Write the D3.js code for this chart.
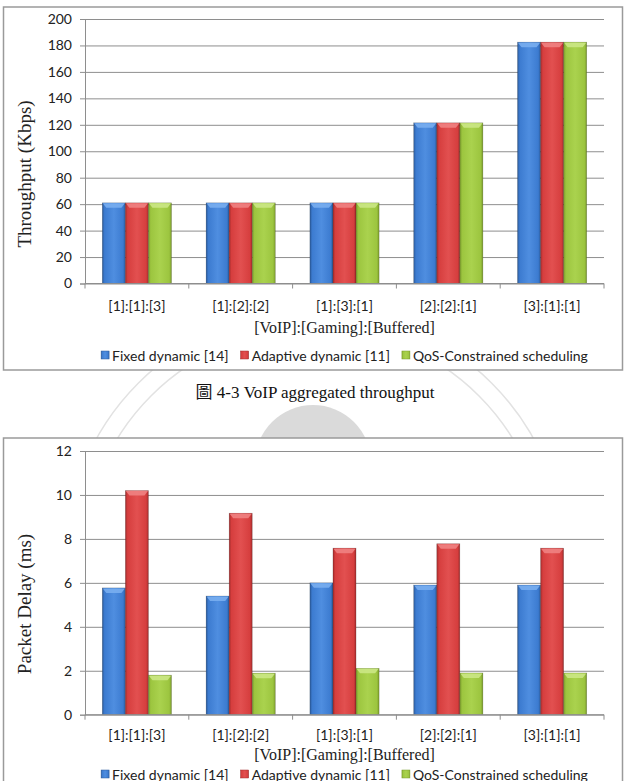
<!DOCTYPE html>
<html>
<head>
<meta charset="utf-8">
<script src="https://cdn.jsdelivr.net/npm/d3@7"></script>
<style>
  body { margin: 0; background: #fff; }
  svg { display: block; }
  .serif { font-family: "Liberation Serif", "Times New Roman", "DejaVu Serif", serif; }
  .caption { font-family: "Liberation Serif", "Times New Roman", "Noto Sans CJK TC", serif; }
  .sans { font-family: Lato, "Open Sans", sans-serif; }
</style>
</head>
<body>
<div id="page"></div>
<script>
// chart data
var categories = ["[1]:[1]:[3]", "[1]:[2]:[2]", "[1]:[3]:[1]", "[2]:[2]:[1]", "[3]:[1]:[1]"];
var seriesNames = ["Fixed dynamic [14]", "Adaptive dynamic [11]", "QoS-Constrained scheduling"];

var throughputFixed    = [61, 61, 61, 121.5, 182.5];
var throughputAdaptive = [61, 61, 61, 121.5, 182.5];
var throughputQoS      = [61, 61, 61, 121.5, 182.5];
var throughputTicks    = [0, 20, 40, 60, 80, 100, 120, 140, 160, 180, 200];

var delayFixed    = [5.77, 5.4, 6.0, 5.9, 5.9];
var delayAdaptive = [10.2, 9.17, 7.58, 7.78, 7.58];
var delayQoS      = [1.8, 1.89, 2.11, 1.9, 1.9];
var delayTicks    = [0, 2, 4, 6, 8, 10, 12];

var xTitle = "[VoIP]:[Gaming]:[Buffered]";
var caption = "圖 4-3 VoIP aggregated throughput";

var W = 631, H = 781;
var plotLeft = 85, plotRight = 604;

var svg = d3.select("#page").append("svg")
  .attr("width", W)
  .attr("height", H);

var defs = svg.append("defs");

// bevel-ish fills for each series
var palette = [
  { edge: "#2b5a9a", mid: "#3c7bd0", light: "#4f8ee0", cap: "#79aef0" },
  { edge: "#a22c2c", mid: "#d63e3e", light: "#e25050", cap: "#ef8282" },
  { edge: "#7a9a2c", mid: "#9cc53f", light: "#aad24e", cap: "#cbe785" }
];
palette.forEach(function(p, i) {
  var g = defs.append("linearGradient")
    .attr("id", "bar" + i)
    .attr("x1", 0).attr("x2", 1).attr("y1", 0).attr("y2", 0);
  g.append("stop").attr("offset", "0").attr("stop-color", p.edge);
  g.append("stop").attr("offset", "0.1").attr("stop-color", p.mid);
  g.append("stop").attr("offset", "0.5").attr("stop-color", p.light);
  g.append("stop").attr("offset", "0.9").attr("stop-color", p.mid);
  g.append("stop").attr("offset", "1").attr("stop-color", p.edge);
});

// faint seal watermark between the two figures
var mark = svg.append("g").attr("class", "watermark");
mark.append("circle")
  .attr("cx", 313).attr("cy", 463).attr("r", 58)
  .attr("fill", "#dadada");
mark.selectAll("circle.ring")
  .data([250, 232])
  .enter()
  .append("circle")
  .attr("class", "ring")
  .attr("cx", 315).attr("cy", 560)
  .attr("r", d => d)
  .attr("fill", "none")
  .attr("stroke", "#e2e2e2")
  .attr("stroke-width", 1.5);

function drawChart(opt) {
  var g = svg.append("g");

  // frame
  g.append("rect")
    .attr("x", 3.5).attr("y", opt.frameY)
    .attr("width", 619).attr("height", opt.frameH)
    .attr("fill", "#fff")
    .attr("stroke", "#9a9a9a")
    .attr("stroke-width", 1.5);

  var y = d3.scaleLinear()
    .domain([0, d3.max(opt.ticks)])
    .range([opt.plotBottom, opt.plotTop]);

  var x0 = d3.scaleBand()
    .domain(categories)
    .range([plotLeft, plotRight])
    .paddingInner(0.333)
    .paddingOuter(0.1665);

  var x1 = d3.scaleBand()
    .domain(seriesNames)
    .range([0, x0.bandwidth()]);

  // gridlines
  g.append("g")
    .attr("transform", `translate(${plotLeft},0)`)
    .call(d3.axisLeft(y).tickValues(opt.ticks).tickSize(-(plotRight - plotLeft)).tickFormat(""))
    .call(s => s.select(".domain").remove())
    .call(s => s.selectAll("line").attr("stroke", "#8e8e8e").attr("stroke-width", 1));

  // y axis
  g.append("g")
    .attr("transform", `translate(${plotLeft},0)`)
    .call(d3.axisLeft(y).tickValues(opt.ticks).tickSize(5).tickPadding(8))
    .call(s => s.select(".domain").attr("stroke", "#8e8e8e"))
    .call(s => s.selectAll("line").attr("stroke", "#8e8e8e"))
    .call(s => s.selectAll("text")
      .attr("font-family", null)
      .attr("class", "sans")
      .attr("font-size", 14)
      .attr("fill", "#222"));

  // bars
  var rows = categories.map(function(c, i) {
    return { cat: c, vals: opt.series.map(function(s, k) { return { name: seriesNames[k], k: k, v: s[i] }; }) };
  });

  var groups = g.selectAll("g.cat")
    .data(rows)
    .enter()
    .append("g")
    .attr("class", "cat")
    .attr("transform", d => `translate(${x0(d.cat)},0)`);

  var bars = groups.selectAll("g.bar")
    .data(d => d.vals)
    .enter()
    .append("g")
    .attr("class", "bar");

  bars.append("rect")
    .attr("x", d => x1(d.name))
    .attr("y", d => y(d.v))
    .attr("width", x1.bandwidth())
    .attr("height", d => y(0) - y(d.v))
    .attr("fill", d => `url(#bar${d.k})`)
    .attr("stroke", "rgba(0,0,0,0.25)")
    .attr("stroke-width", 0.6);

  // light top cap of each bar
  bars.append("path")
    .attr("d", function(d) {
      var bx = x1(d.name), bw = x1.bandwidth(), by = y(d.v);
      return `M${bx + 0.5},${by + 0.5} L${bx + bw - 0.5},${by + 0.5} L${bx + bw - 4},${by + 5} L${bx + 4},${by + 5} Z`;
    })
    .attr("fill", d => palette[d.k].cap)
    .attr("opacity", 0.9);

  // x axis line and category boundary ticks
  g.append("line")
    .attr("x1", plotLeft).attr("x2", plotRight)
    .attr("y1", y(0)).attr("y2", y(0))
    .attr("stroke", "#8e8e8e");

  var half = x0.step() * x0.paddingInner() / 2;
  var bounds = categories.map(c => x0(c) - half).concat([plotRight]);
  g.selectAll("line.ctick")
    .data(bounds)
    .enter()
    .append("line")
    .attr("class", "ctick")
    .attr("x1", d => d).attr("x2", d => d)
    .attr("y1", y(0)).attr("y2", y(0) + 5)
    .attr("stroke", "#8e8e8e");

  g.selectAll("text.catlabel")
    .data(categories)
    .enter()
    .append("text")
    .attr("class", "catlabel sans")
    .attr("x", d => x0(d) + x0.bandwidth() / 2)
    .attr("y", opt.catLabelY)
    .attr("text-anchor", "middle")
    .attr("dominant-baseline", "central")
    .attr("font-size", 14)
    .attr("fill", "#222")
    .text(d => d);

  // axis titles
  g.append("text")
    .attr("class", "serif")
    .attr("x", (plotLeft + plotRight) / 2)
    .attr("y", opt.xTitleY)
    .attr("text-anchor", "middle")
    .attr("dominant-baseline", "central")
    .attr("font-size", 16)
    .attr("fill", "#222")
    .text(xTitle);

  g.append("text")
    .attr("class", "serif")
    .attr("transform", `translate(24, ${opt.yTitleCenter}) rotate(-90)`)
    .attr("text-anchor", "middle")
    .attr("dominant-baseline", "central")
    .attr("font-size", 19)
    .attr("fill", "#222")
    .text(opt.yTitle);

  // legend
  var legend = g.append("g");
  var items = legend.selectAll("g.item")
    .data(seriesNames)
    .enter()
    .append("g")
    .attr("class", "item");
  items.append("rect")
    .attr("width", 8).attr("height", 8)
    .attr("y", opt.legendY - 4)
    .attr("fill", (d, i) => `url(#bar${i})`)
    .attr("stroke", (d, i) => palette[i].edge)
    .attr("stroke-width", 0.5);
  items.append("text")
    .attr("class", "sans")
    .attr("x", 11)
    .attr("y", opt.legendY)
    .attr("dominant-baseline", "central")
    .attr("font-size", 14)
    .attr("fill", "#222")
    .text(d => d);

  var offs = [], cur = 0;
  items.each(function() {
    offs.push(cur);
    cur += 11 + d3.select(this).select("text").node().getComputedTextLength() + 12;
  });
  var total = cur - 12;
  var startX = (plotLeft + plotRight) / 2 - total / 2;
  items.attr("transform", (d, i) => `translate(${startX + offs[i]},0)`);
}

drawChart({
  frameY: 7, frameH: 363,
  plotTop: 19, plotBottom: 283.5,
  catLabelY: 305, xTitleY: 327, legendY: 355, yTitleCenter: 174,
  ticks: throughputTicks,
  series: [throughputFixed, throughputAdaptive, throughputQoS],
  yTitle: "Throughput (Kbps)"
});

svg.append("text")
  .attr("class", "caption")
  .attr("x", 315)
  .attr("y", 392)
  .attr("text-anchor", "middle")
  .attr("dominant-baseline", "central")
  .attr("font-size", 17)
  .attr("fill", "#111")
  .text(caption);

drawChart({
  frameY: 438, frameH: 380,
  plotTop: 451, plotBottom: 714.7,
  catLabelY: 734, xTitleY: 754, legendY: 774, yTitleCenter: 604,
  ticks: delayTicks,
  series: [delayFixed, delayAdaptive, delayQoS],
  yTitle: "Packet Delay (ms)"
});
</script>
</body>
</html>
